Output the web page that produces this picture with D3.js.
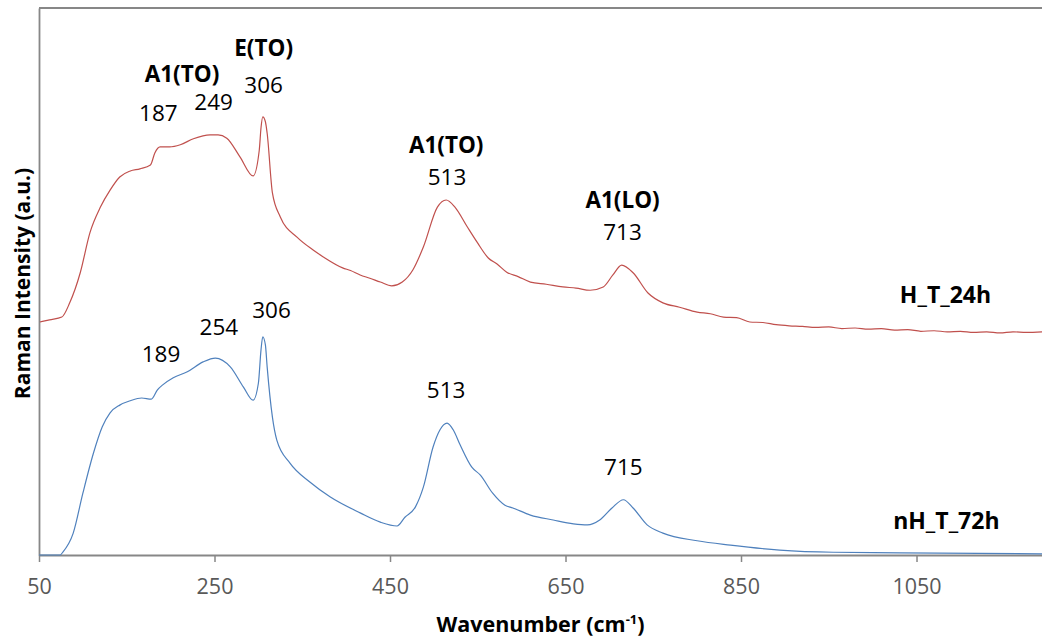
<!DOCTYPE html>
<html>
<head>
<meta charset="utf-8">
<script src="https://cdn.jsdelivr.net/npm/d3@7"></script>
<style>
  html, body { margin: 0; padding: 0; background: #ffffff; }
  svg { display: block; }
  text { font-family: "Open Sans", "Lato", sans-serif; }
</style>
</head>
<body>
<svg id="chart" width="1042" height="642"></svg>
<script>
// Raman spectra: wavenumber (cm-1) and relative intensity (a.u., stacked offsets)
const sampleNames = ["H_T_24h", "nH_T_72h"];

const wavenumberH24 = [51, 62, 76, 85, 97, 108, 120, 131, 142, 154, 165, 177, 182, 188, 199, 211, 226, 245, 254, 264, 279, 294, 301, 303, 305, 308, 310, 316, 325, 344, 362, 374, 396, 405, 416, 427, 439, 452, 464, 476, 488, 504, 514, 524, 538, 550, 562, 572, 583, 596, 610, 628, 647, 662, 678, 693, 704, 714, 727, 744, 761, 780, 800, 815, 830, 845, 860, 875, 890, 905, 920, 935, 950, 965, 980, 995, 1010, 1025, 1040, 1055, 1070, 1085, 1100, 1115, 1130, 1145, 1160, 1175, 1193];
const intensityH24 = [42.6, 43.0, 43.5, 46.1, 51.6, 58.9, 63.6, 66.7, 69.1, 70.2, 70.6, 71.3, 73.5, 74.6, 74.6, 75.0, 76.1, 76.8, 76.8, 76.2, 72.8, 69.3, 74.0, 78.1, 80.1, 79.2, 77.1, 66.2, 61.8, 58.1, 55.8, 54.5, 52.5, 52.0, 51.2, 50.6, 49.9, 49.2, 49.9, 52.1, 56.3, 63.6, 64.9, 63.6, 60.0, 57.0, 54.3, 53.2, 51.7, 50.9, 49.9, 49.5, 49.0, 48.8, 48.4, 49.0, 51.2, 53.0, 51.6, 47.9, 46.1, 45.3, 44.4, 44.1, 43.5, 43.4, 42.6, 42.5, 42.1, 41.9, 41.8, 41.6, 41.7, 41.4, 41.5, 41.3, 41.4, 41.1, 41.2, 40.9, 41.0, 40.8, 40.9, 40.7, 40.8, 40.6, 40.8, 40.7, 40.8];

const wavenumberNH72 = [50, 74, 77, 89, 100, 112, 122, 131, 142, 154, 167, 178, 185, 191, 203, 219, 237, 251, 268, 283, 294, 300, 303, 305, 308, 310, 316, 321, 336, 359, 382, 416, 439, 458, 467, 479, 488, 499, 507, 515, 522, 530, 543, 553, 567, 581, 590, 610, 636, 659, 675, 689, 703, 716, 727, 743, 761, 800, 838, 894, 955, 1031, 1193];
const intensityNH72 = [0, 0, 0.5, 4.0, 11.3, 18.6, 23.4, 26.0, 27.4, 28.2, 28.7, 28.5, 30.2, 31.1, 32.4, 33.5, 35.3, 36.0, 34.4, 30.7, 28.3, 31.4, 37.5, 39.9, 38.4, 34.4, 25.2, 21.0, 16.8, 13.3, 10.6, 7.7, 6.0, 5.3, 6.9, 8.8, 12.4, 19.7, 22.9, 24.1, 22.9, 20.1, 16.1, 14.6, 11.3, 9.1, 8.6, 7.3, 6.4, 5.7, 5.5, 6.4, 8.6, 10.1, 8.6, 5.5, 4.0, 2.6, 1.8, 0.9, 0.5, 0.4, 0.2];

const xTickValues = [50, 250, 450, 650, 850, 1050];

// Peak annotations: [label, wavenumber position, baseline intensity, bold?]
const peakLabelsH24 = [
  ["A1(TO)", 213, 86.5, true],
  ["187", 186, 79.3, false],
  ["249", 249, 81.4, false],
  ["E(TO)", 306, 91.2, true],
  ["306", 306, 84.5, false],
  ["A1(TO)", 514, 73.5, true],
  ["513", 515, 67.6, false],
  ["A1(LO)", 715, 63.4, true],
  ["713", 715, 57.6, false]
];
const peakLabelsNH72 = [
  ["189", 189, 35.3, false],
  ["254", 255, 40.2, false],
  ["306", 315, 43.3, false],
  ["513", 514, 28.7, false],
  ["715", 716, 14.6, false]
];
const seriesLabels = [
  ["H_T_24h", 1083, 46.1],
  ["nH_T_72h", 1084, 4.8]
];

const colors = ["#c0504d", "#4f81bd"];

const svg = d3.select("#chart");
const W = 1042, H = 642;
const margin = { left: 39, right: 0, top: 8, bottom: 87 };

const x = d3.scaleLinear().domain([50, 1193]).range([margin.left, W - margin.right]);
const y = d3.scaleLinear().domain([0, 100]).range([H - margin.bottom, margin.top]);

const axisColor = "#878787";

// frame line along the top of the plot area
svg.append("line")
  .attr("x1", x.range()[0]).attr("x2", x.range()[1])
  .attr("y1", y(100)).attr("y2", y(100))
  .attr("stroke", axisColor).attr("stroke-width", 1.8);

// left axis: a plain line, no ticks
const yAxis = svg.append("g")
  .attr("transform", `translate(${margin.left},0)`)
  .call(d3.axisLeft(y).tickValues([]).tickSizeOuter(0));
yAxis.select(".domain").attr("stroke", axisColor).attr("stroke-width", 1.8);

// bottom axis
const xAxis = svg.append("g")
  .attr("transform", `translate(0,${y(0)})`)
  .call(d3.axisBottom(x).tickValues(xTickValues).tickFormat(d3.format("d"))
    .tickSize(7).tickSizeOuter(0).tickPadding(17));
xAxis.select(".domain").attr("stroke", axisColor).attr("stroke-width", 1.8);
xAxis.selectAll(".tick line").attr("stroke", axisColor).attr("stroke-width", 1.5);
xAxis.selectAll(".tick text")
  .attr("fill", "#595959")
  .style("font-size", "21.5px")
  .style("font-family", "'Open Sans', sans-serif");

// spectra
const line = d3.line()
  .x(d => x(d[0]))
  .y(d => y(d[1]))
  .curve(d3.curveMonotoneX);

const spectra = [
  d3.zip(wavenumberH24, intensityH24),
  d3.zip(wavenumberNH72, intensityNH72)
];

svg.append("g").selectAll("path")
  .data(spectra)
  .join("path")
  .attr("d", line)
  .attr("fill", "none")
  .attr("stroke", (d, i) => colors[i])
  .attr("stroke-width", 1.2)
  .attr("stroke-linejoin", "round");

// peak labels
const allPeakLabels = peakLabelsH24.concat(peakLabelsNH72);
svg.append("g").selectAll("text")
  .data(allPeakLabels)
  .join("text")
  .attr("x", d => x(d[1]))
  .attr("y", d => y(d[2]))
  .attr("text-anchor", "middle")
  .style("font-size", "22.5px")
  .style("font-weight", d => d[3] ? "700" : "400")
  .attr("fill", "#000")
  .text(d => d[0]);

// series names
svg.append("g").selectAll("text")
  .data(seriesLabels)
  .join("text")
  .attr("x", d => x(d[1]))
  .attr("y", d => y(d[2]))
  .attr("text-anchor", "middle")
  .style("font-size", "23px")
  .style("font-weight", "700")
  .attr("fill", "#000")
  .text(d => d[0]);

// axis titles
const xTitle = svg.append("text")
  .attr("x", (x.range()[0] + x.range()[1]) / 2)
  .attr("y", 632)
  .attr("text-anchor", "middle")
  .style("font-size", "21.5px")
  .style("font-weight", "700")
  .attr("fill", "#000");
xTitle.append("tspan").text("Wavenumber (cm");
xTitle.append("tspan").attr("dy", -8).style("font-size", "13px").text("-1");
xTitle.append("tspan").attr("dy", 8).text(")");

svg.append("text")
  .attr("transform", `translate(30,${(y(0) + y(100)) / 2 + 2}) rotate(-90)`)
  .attr("text-anchor", "middle")
  .style("font-size", "21px")
  .style("font-weight", "700")
  .attr("fill", "#000")
  .text("Raman Intensity (a.u.)");
</script>
</body>
</html>
